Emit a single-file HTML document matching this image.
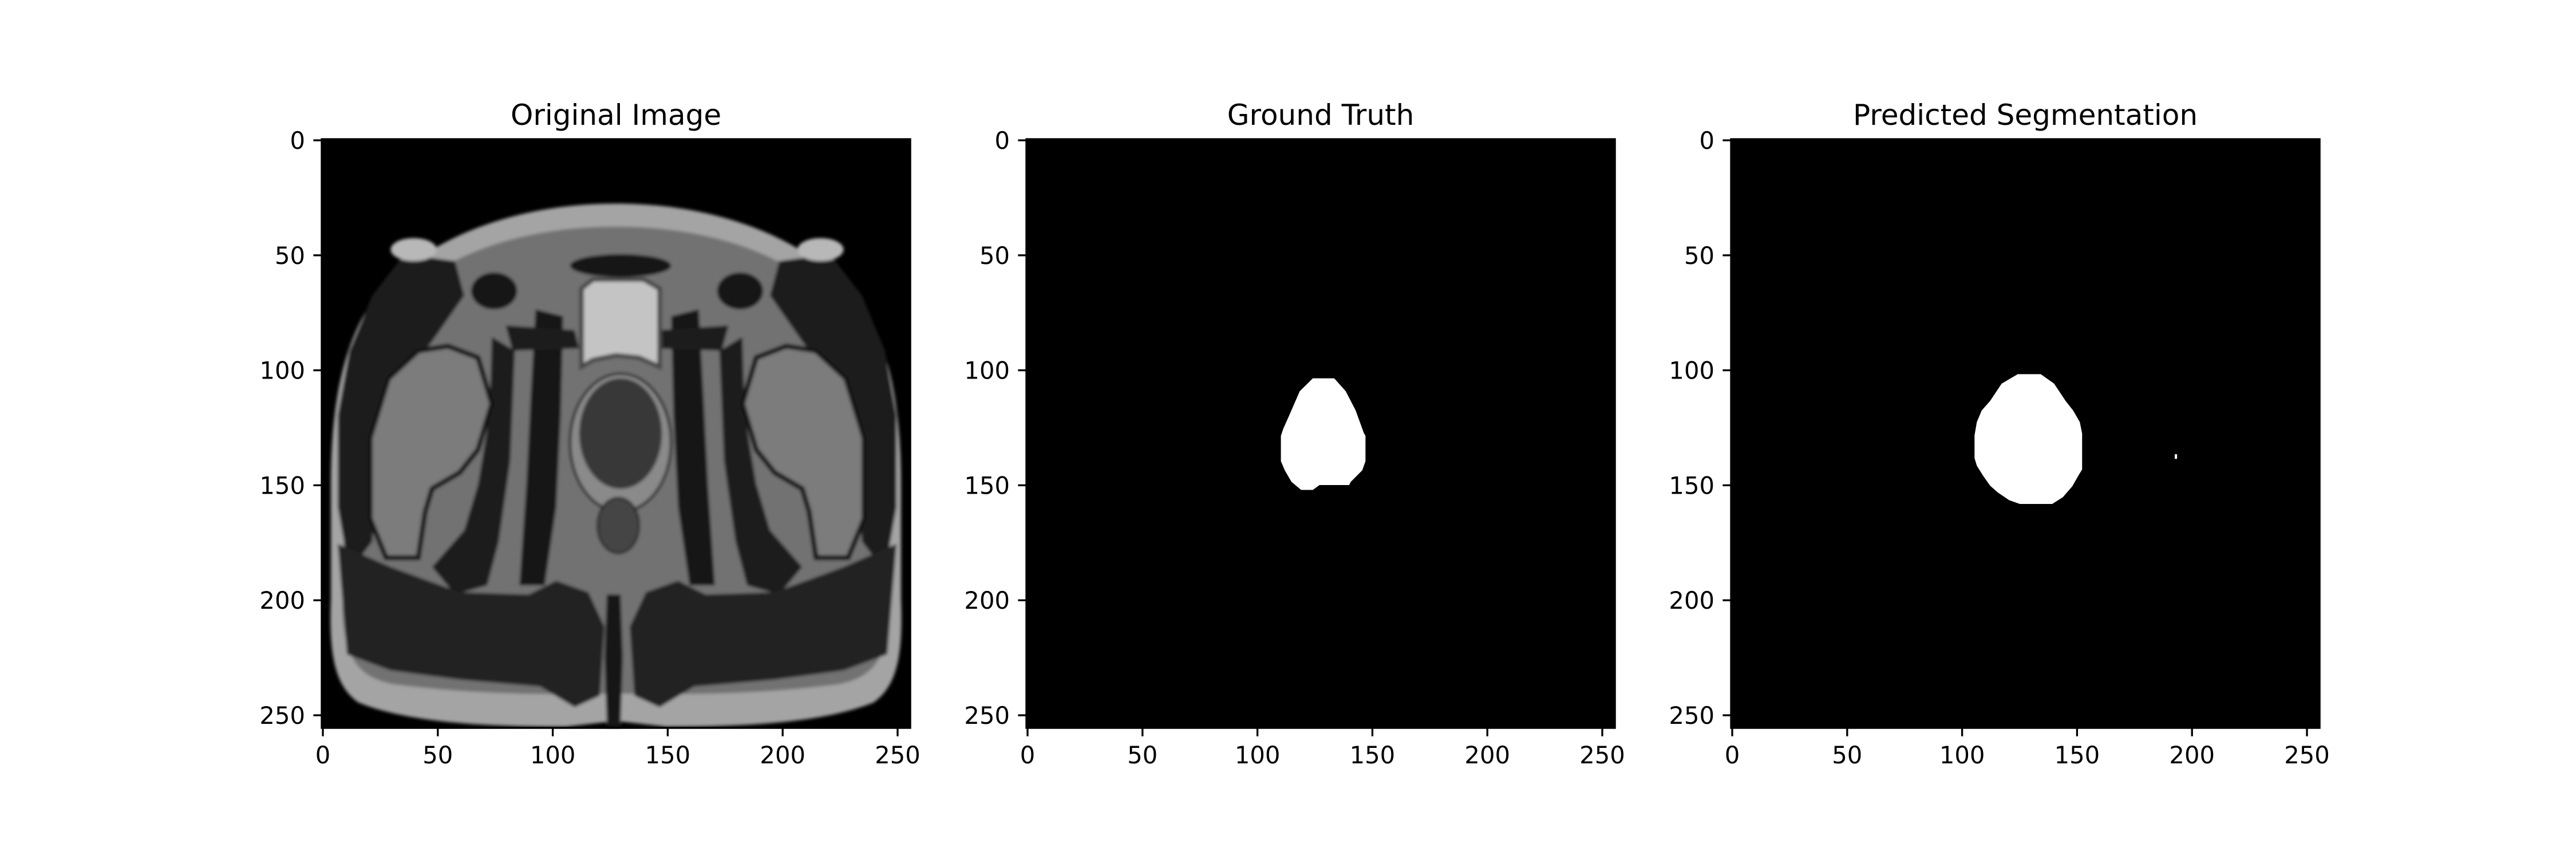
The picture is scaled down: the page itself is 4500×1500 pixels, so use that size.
<!DOCTYPE html>
<html>
<head>
<meta charset="utf-8">
<style>
html,body{margin:0;padding:0;background:#fff;}
svg{display:block;}
text{font-family:"DejaVu Sans","Liberation Sans",sans-serif;fill:#000;}
</style>
</head>
<body>
<svg id="fig" width="4500" height="1500" viewBox="0 0 4500 1500" xmlns="http://www.w3.org/2000/svg">
<rect x="0" y="0" width="4500" height="1500" fill="#fff"/>
<defs>
  <filter id="soft" x="-5%" y="-5%" width="110%" height="110%"><feGaussianBlur stdDeviation="0.7"/></filter>
  <g id="mri-left">
    <polygon fill="#1e1e1e" points="36,50 58,53 62,68 48,88 32,108 24,140 22,175 12,188 7,160 7,120 12,92 22,68"/>
    <polygon fill="#1a1a1a" points="74,86 84,92 82,140 77,175 72,194 58,198 48,186 62,170 68,150 73,120"/>
    <polygon fill="#7c7c7c" stroke="#181818" stroke-width="2.2" points="55,90 68,95 74,115 68,135 60,145 48,152 45,162 42,182 28,182 21,165 21,130 29,104 42,92"/>
    <polygon fill="#161616" points="93,74 105,77 104,120 102,160 97,194 86,194 89,150 91,110"/>
    <ellipse cx="75" cy="66" rx="10" ry="8" fill="#151515"/>
    <polygon fill="#1c1c1c" points="80,81 110,83 112,91 83,92"/>
    <polygon fill="#222" points="7,176 30,186 60,197 90,198 102,192 116,197 123,212 121,242 110,247 95,238 60,235 30,231 11,224"/>
    <ellipse cx="40" cy="48" rx="10" ry="5" fill="#b8b8b8"/>
  </g>
</defs>
<script>
// ---- data ----
var panelTitles = ["Original Image", "Ground Truth", "Predicted Segmentation"];
var tickValues = [0, 50, 100, 150, 200, 250];
var tickLabels = ["0", "50", "100", "150", "200", "250"];
var imageSize = 256;
// ground truth mask contour (col,row)
var gtCols = [124.6,133.9,138.9,143.2,146.8,147.5,147.5,146.1,141.1,140.4,127.5,124.6,119.5,115.3,112.4,110.7,110.7,111.7,114.6,118.9];
var gtRows = [104,104,109.6,117.9,127.8,129,140,144,149,150.4,150.4,152.5,152.5,149,144,140,129,126,119.5,109.6];
// predicted mask contour (col,row)
var predCols = [124.7,134.7,140.5,145.5,148.8,151.7,152.7,152.7,150.9,148.4,144.3,139.7,125.6,121,116,112.7,109.8,106.9,105.9,105.9,106.9,109,112.7,117.7];
var predRows = [102.2,102.2,106.3,113.8,118,123,128,143.6,146.6,151,155.7,158.6,158.6,157,153.6,150.7,146.6,142,138.7,128.8,123,118,113.8,106.3];
var predDotCols = [193];
var predDotRows = [137.5];
</script>
<script>
(function(){
var NS = "http://www.w3.org/2000/svg";
var svg = document.getElementById('fig');
var lefts = [562, 1793, 3024];
var top0 = 243, size = 1028.1;
var px = size / imageSize;
function mk(tag, attrs, parent){
  var e = document.createElementNS(NS, tag);
  for (var k in attrs) e.setAttribute(k, attrs[k]);
  (parent || svg).appendChild(e);
  return e;
}
function xScale(p, c){ return lefts[p] + (c + 0.5) * px; }
function yScale(r){ return top0 + (r + 0.5) * px; }

for (var p = 0; p < 3; p++) {
  var L = lefts[p];
  var g = mk('g', {});
  
  
  var bg = mk('rect', {x: L, y: top0, width: size, height: size, fill: '#000'}, g);
  
  

  if (p === 0) {
    var img = mk('g', {transform: 'translate(' + L + ',' + top0 + ') scale(' + px + ')', filter: 'url(#soft)'}, g);
    
    
    mk('path', {fill: '#a4a4a4', d: 'M128,28 C175,28 215,45 235,72 C248,92 252,120 252,150 L252,200 C253,225 250,238 240,245 C220,253 190,255.5 150,255.5 L128,253 L106,255.5 C66,255.5 36,253 16,245 C6,238 3,225 4,200 L4,150 C4,120 8,92 21,72 C41,45 81,28 128,28 Z'}, img);
    mk('path', {fill: '#727272', d: 'M128,38 C172,38 208,52 226,75 C240,95 245,125 246,150 L247,205 C246,226 240,234 225,237 C195,241 160,242 128,241 C96,242 61,241 31,237 C16,234 10,226 9,205 L10,150 C11,125 16,95 30,75 C48,52 84,38 128,38 Z'}, img);
    mk('use', {href: '#mri-left'}, img);
    mk('use', {href: '#mri-left', transform: 'translate(257,0) scale(-1,1)'}, img);
    mk('ellipse', {cx: 130, cy: 55, rx: 22, ry: 5, fill: '#161616'}, img);
    mk('polygon', {fill: '#c4c4c4', stroke: '#4a4a4a', 'stroke-width': 2, points: '113,65 118,61 140,61 147,65 147,99 138,95 128,94 118,96 113,99'}, img);
    mk('ellipse', {cx: 130, cy: 132, rx: 22, ry: 30, fill: '#8a8a8a', stroke: '#2a2a2a', 'stroke-width': 1.2}, img);
    mk('ellipse', {cx: 130, cy: 128, rx: 18, ry: 24, fill: '#383838'}, img);
    mk('ellipse', {cx: 129, cy: 168, rx: 9, ry: 12, fill: '#444', stroke: '#2a2a2a', 'stroke-width': 1}, img);
    mk('polygon', {fill: '#151515', points: '124,198 130,198 131,225 130,255.5 124,255.5 123,225'}, img);
  }
  if (p === 1 || p === 2) {
    var cols = p === 1 ? gtCols : predCols;
    var rows = p === 1 ? gtRows : predRows;
    var pts = [];
    for (var i = 0; i < cols.length; i++) pts.push(xScale(p, cols[i] - 0.5) + ',' + yScale(rows[i] - 0.5));
    var m = mk('polygon', {points: pts.join(' '), fill: '#fff'}, g);
    
    
  }
  if (p === 2) {
    for (var d = 0; d < predDotCols.length; d++) {
      var dot = mk('rect', {x: xScale(p, predDotCols[d] - 0.5), y: yScale(predDotRows[d] - 1), width: px, height: 2 * px, fill: '#fff'}, g);
      
      
    }
  }
  var frame = mk('rect', {x: L, y: top0, width: size, height: size, fill: 'none', stroke: '#000', 'stroke-width': 3.33}, g);
  
  

  var t = mk('text', {x: L + size / 2, y: 218, 'text-anchor': 'middle', 'font-size': 50}, g);
  t.textContent = panelTitles[p];
  
  

  for (var k = 0; k < tickValues.length; k++) {
    var v = tickValues[k];
    var yy = yScale(v);
    var yt = mk('line', {x1: L - 14.6, x2: L, y1: yy, y2: yy, stroke: '#000', 'stroke-width': 3.33}, g);
    
    
    var yl = mk('text', {x: L - 29, y: yy + 15, 'text-anchor': 'end', 'font-size': 41.7}, g);
    yl.textContent = tickLabels[k];
    
    

    var xx = xScale(p, v);
    var xt = mk('line', {x1: xx, x2: xx, y1: top0 + size, y2: top0 + size + 14.6, stroke: '#000', 'stroke-width': 3.33}, g);
    
    
    var xl = mk('text', {x: xx, y: 1333, 'text-anchor': 'middle', 'font-size': 41.7}, g);
    xl.textContent = tickLabels[k];
    
    
  }
}
})();
</script>
</svg>
</body>
</html>
